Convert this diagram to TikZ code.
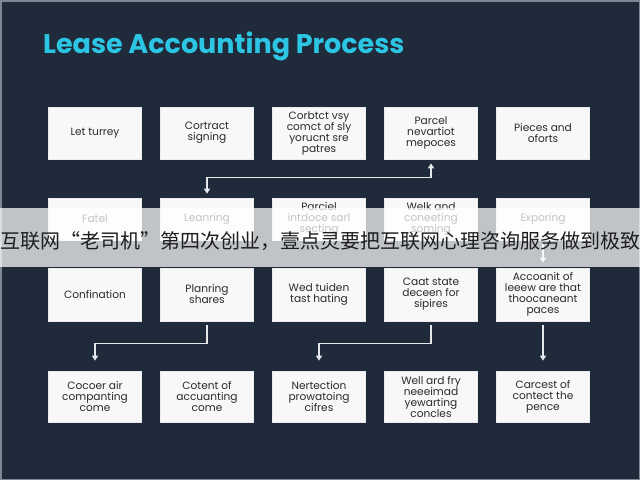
\documentclass[tikz,border=0pt]{standalone}
\usepackage{fontspec}
\setmainfont{Poppins}
\newfontfamily\cjk{Noto Sans CJK SC}
\usetikzlibrary{arrows.meta}
\definecolor{bg}{HTML}{1F2B3A}
\definecolor{ttl}{HTML}{2CC5E3}
\definecolor{boxfill}{HTML}{F8F8F8}
\definecolor{boxtext}{HTML}{2A2A2A}
\definecolor{arr}{HTML}{E6E9EC}
\definecolor{framec}{HTML}{7E8893}
\definecolor{cjktext}{HTML}{1E1E1E}
\begin{document}
\begin{tikzpicture}[x=1pt,y=-1pt,
  stepbox/.style={draw=white!85!gray, line width=0.6pt, fill=boxfill,
    minimum width=93pt, minimum height=52pt, inner sep=1pt, align=center,
    font=\fontsize{10.6}{11}\selectfont, text=boxtext},
  flow/.style={draw=arr, line width=1.3pt, -{Triangle[width=6pt,length=5pt]}},
]
\fill[bg] (0,0) rectangle (640,480);
\useasboundingbox (0,0) rectangle (640,480);
\draw[framec, line width=1.5pt] (0.75,0.75) rectangle (639.25,479.25);

\node[anchor=base west, inner sep=0, text=ttl,
  font=\fontsize{27}{30}\selectfont\bfseries] (title) at (43,53) {Lease Accounting Process};

% row 1
\node[stepbox] (r1c1) at (95,133) {Let turrey};
\node[stepbox] (r1c2) at (207,133) {Cortract\\signing};
\node[stepbox] (r1c3) at (319,133) {Corbtct vsy\\comct of sly\\yorucnt sre\\patres};
\node[stepbox] (r1c4) at (431,133) {Parcel\\nevartiot\\mepoces};
\node[stepbox] (r1c5) at (543,133) {Pieces and\\oforts};
% row 2
\node[stepbox, minimum height=42pt] (r2c1) at (95,219) {Fatel};
\node[stepbox, minimum height=42pt] (r2c2) at (207,219) {Leanring};
\node[stepbox, minimum height=42pt] (r2c3) at (319,219) {Parciel\\intdoce sarl\\secting};
\node[stepbox, minimum height=42pt] (r2c4) at (431,219) {Welk and\\coneeting\\soming};
\node[stepbox, minimum height=42pt] (r2c5) at (543,219) {Exporing};
% row 3
\node[stepbox, minimum height=53pt] (r3c1) at (95,294.5) {Confination};
\node[stepbox, minimum height=53pt] (r3c2) at (207,294.5) {Planring\\shares};
\node[stepbox, minimum height=53pt] (r3c3) at (319,294.5) {Wed tuiden\\tast hating};
\node[stepbox, minimum height=53pt] (r3c4) at (431,294.5) {Caat state\\deceen for\\sipires};
\node[stepbox, minimum height=53pt] (r3c5) at (543,294.5) {Accoanit of\\leeew are that\\thoocaneant\\paces};
% row 4
\node[stepbox, minimum height=51pt] (r4c1) at (95,396.5) {Cocoer air\\companting\\come};
\node[stepbox, minimum height=51pt] (r4c2) at (207,396.5) {Cotent of\\accuanting\\come};
\node[stepbox, minimum height=51pt] (r4c3) at (319,396.5) {Nertection\\prowatoing\\cifres};
\node[stepbox, minimum height=51pt] (r4c4) at (431,396.5) {Well ard fry\\neeeimad\\yewarting\\concles};
\node[stepbox, minimum height=51pt] (r4c5) at (543,396.5) {Carcest of\\contect the\\pence};

% connectors
\draw[flow, {Triangle[width=6pt,length=5pt]}-{Triangle[width=6pt,length=5pt]},
  shorten <=4pt, shorten >=4pt] (r2c2.north) -- ++(0,-20) -| (r1c4.south);
\draw[flow, shorten <=4pt, shorten >=5pt] (r2c5.south) -- (r3c5.north);
\draw[flow, shorten <=4pt, shorten >=10pt] (r3c2.south) -- ++(0,22) -| (r4c1.north);
\draw[flow, shorten <=4pt, shorten >=10pt] (r3c4.south) -- ++(0,22) -| (r4c3.north);
\draw[flow, shorten <=4pt, shorten >=10pt] (r3c5.south) -- (r4c5.north);

% overlay banner
\fill[white, opacity=0.72] (0,208) rectangle (640,267);
\node[anchor=west, inner sep=0, text=cjktext, font=\cjk\fontsize{20}{24}\selectfont]
  (banner) at (0,241) {互联网“老司机”第四次创业，壹点灵要把互联网心理咨询服务做到极致};
\end{tikzpicture}
\end{document}
